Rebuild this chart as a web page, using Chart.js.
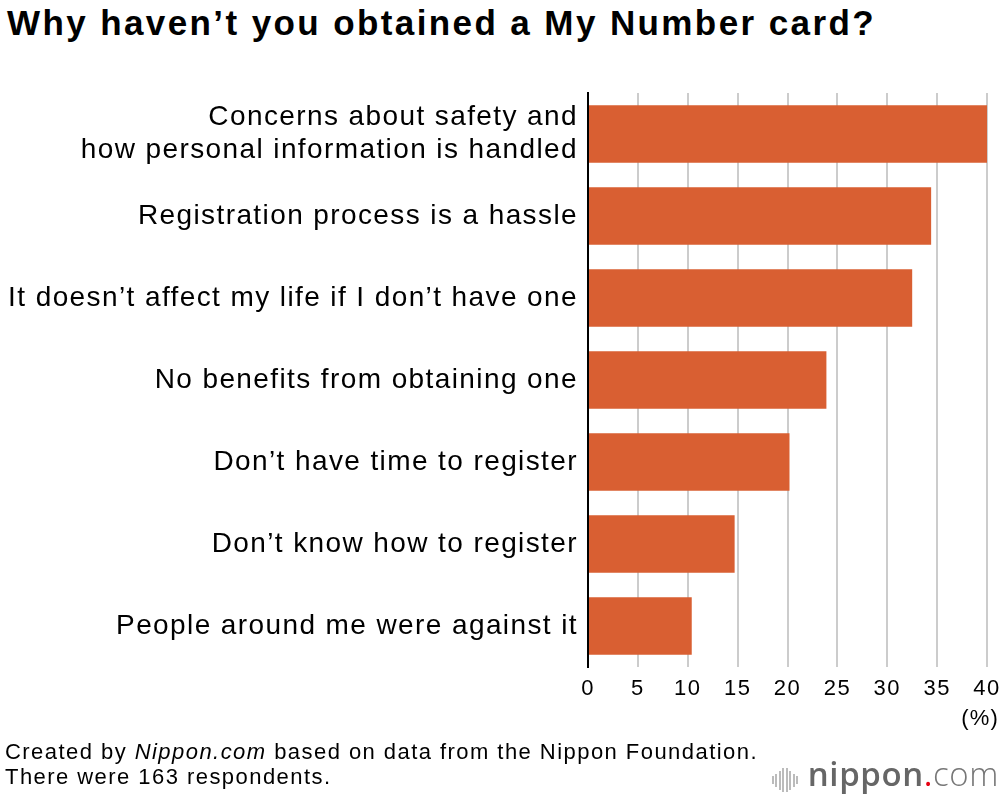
<!DOCTYPE html>
<html>
<head>
<meta charset="utf-8">
<script src="https://cdn.jsdelivr.net/npm/chart.js@4/dist/chart.umd.min.js"></script>
<style>
  html, body { margin: 0; padding: 0; background: #fff; }
  body { width: 1000px; height: 796px; position: relative; overflow: hidden; font-family: "Liberation Sans", Arial, sans-serif; }
  #titulo { position: absolute; left: 7px; top: 3px; font-size: 35px; letter-spacing: 2.4px; font-weight: bold; color: #000; white-space: nowrap; }
  #lienzo { position: absolute; left: 0; top: 0; }
  #unidad { position: absolute; right: 1px; top: 705px; font-size: 22px; letter-spacing: 1.2px; color: #000; }
  #fuente { position: absolute; left: 5px; top: 739px; font-size: 22px; letter-spacing: 1.45px; line-height: 25px; color: #000; white-space: nowrap; }
  #logo { position: absolute; right: 1px; top: 751px; font-size: 33px; color: #666; font-family: "Open Sans", "DejaVu Sans", sans-serif; letter-spacing: 0.6px; white-space: nowrap; }
  #logo b { font-weight: 600; }
  #logo .punto { color: #e60012; }
  #logo .com { font-weight: 300; color: #777; }
  #logo .ondas { display: inline-block; vertical-align: middle; margin-right: 8px; height: 24px; line-height: 24px; }
  #logo .ondas i { display: inline-block; width: 2px; background: #bbb; margin-right: 1.5px; vertical-align: middle; }
</style>
</head>
<body>
<div id="titulo">Why haven’t you obtained a My Number card?</div>
<canvas id="lienzo" width="1000" height="796"></canvas>
<div id="unidad">(%)</div>
<div id="fuente">Created by <i>Nippon.com</i> based on data from the Nippon Foundation.<br>There were 163 respondents.</div>
<div id="logo"><span class="ondas"><i style="height:8px"></i><i style="height:13px"></i><i style="height:19px"></i><i style="height:24px"></i><i style="height:24px"></i><i style="height:19px"></i><i style="height:13px"></i><i style="height:8px"></i></span><b>nippon</b><span class="punto">.</span><span class="com">com</span></div>
<script>
// Datos del gráfico
const categorias = [
    ['Concerns about safety and', 'how personal information is handled'],
    'Registration process is a hassle',
    'It doesn’t affect my life if I don’t have one',
    'No benefits from obtaining one',
    'Don’t have time to register',
    'Don’t know how to register',
    'People around me were against it'
];
const porcentajes = [40.0, 34.4, 32.5, 23.9, 20.2, 14.7, 10.4];
const ticksX = [0, 5, 10, 15, 20, 25, 30, 35, 40];

const fuente = '"Liberation Sans", Arial, sans-serif';

// espaciado de letras para acercarse al texto ancho del original
const espaciado = {
    id: 'espaciado',
    beforeDraw(chart) { chart.ctx.letterSpacing = '1.4px'; },
    afterDraw(chart) { chart.ctx.letterSpacing = '0px'; }
};

new Chart(document.getElementById('lienzo'), {
    type: 'bar',
    data: {
        labels: categorias,
        datasets: [{
            data: porcentajes,
            backgroundColor: '#d95f32',
            borderWidth: 0,
            categoryPercentage: 1,
            barPercentage: 0.7
        }]
    },
    options: {
        indexAxis: 'y',
        responsive: false,
        animation: false,
        layout: { padding: { top: 93, right: 13, bottom: 0, left: 0 } },
        plugins: { legend: { display: false }, tooltip: { enabled: false } },
        scales: {
            x: {
                min: 0, max: 40,
                afterBuildTicks: ax => { ax.ticks = ticksX.map(v => ({ value: v })); },
                afterFit: ax => { ax.height = 129; ax.paddingLeft = 0; ax.paddingRight = 0; },
                border: { display: false },
                grid: {
                    color: ctx => ctx.tick && ctx.tick.value === 0 ? 'rgba(0,0,0,0)' : '#cccccc',
                    lineWidth: 2,
                    drawTicks: false
                },
                ticks: { color: '#000', font: { family: fuente, size: 22 }, padding: 9, maxRotation: 0 }
            },
            y: {
                afterFit: ax => { ax.width = 588; },
                border: { display: true, color: '#000', width: 2 },
                grid: { display: false },
                ticks: { color: '#000', font: { family: fuente, size: 28, lineHeight: 1.18 }, padding: 2 }
            }
        }
    },
    plugins: [espaciado]
});
</script>
</body>
</html>
